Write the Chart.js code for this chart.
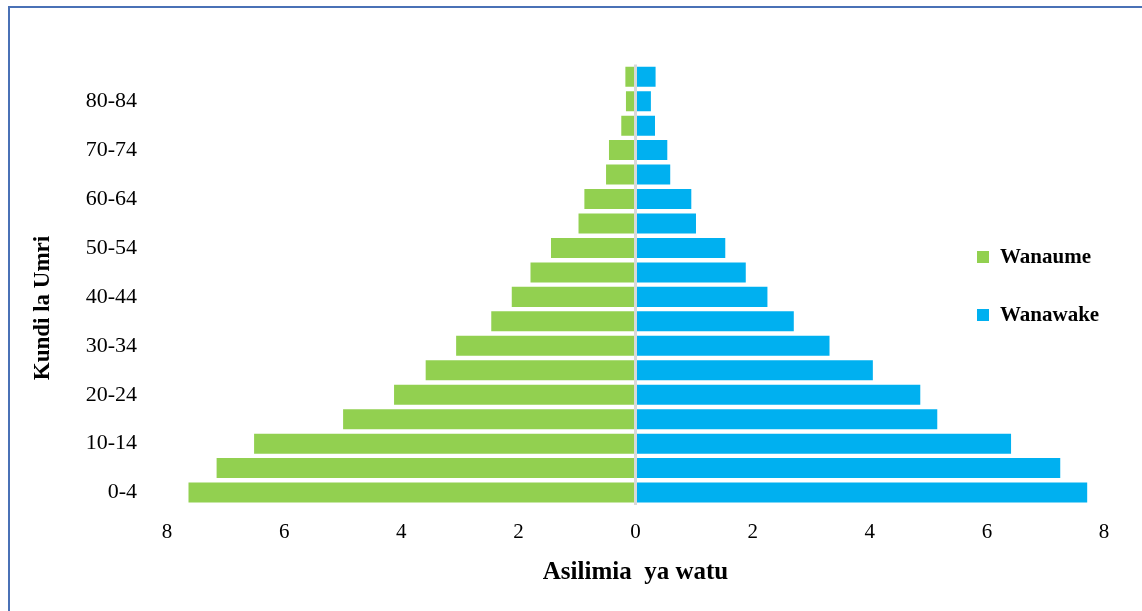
<!DOCTYPE html>
<html>
<head>
<meta charset="utf-8">
<script src="https://cdn.jsdelivr.net/npm/chart.js@4.4.1/dist/chart.umd.min.js"></script>
<style>
    body { margin: 0; background: #fff; overflow: hidden; }
    #frame {
        position: absolute; left: 8px; top: 6px;
        width: 1200px; height: 700px;
        border-left: 2px solid #4a71b6; border-top: 2px solid #4a71b6;
    }
    #pyramid { position: absolute; left: 0; top: 0; }
</style>
</head>
<body>
<div id="frame"></div>
<canvas id="pyramid" width="1142" height="611"></canvas>
<script>
// age groups, youngest first
const ageGroups = ["0-4","5-9","10-14","15-19","20-24","25-29","30-34","35-39","40-44",
                   "45-49","50-54","55-59","60-64","65-69","70-74","75-79","80-84","85+"];
// percent of population
const wanaume = [7.65, 7.17, 6.53, 5.01, 4.14, 3.60, 3.08, 2.48, 2.13,
                 1.81, 1.46, 0.99, 0.89, 0.52, 0.47, 0.26, 0.18, 0.19];
const wanawake = [7.73, 7.27, 6.43, 5.17, 4.88, 4.07, 3.33, 2.72, 2.27,
                  1.90, 1.55, 1.05, 0.97, 0.61, 0.56, 0.35, 0.28, 0.36];
const xTicks = [-8, -6, -4, -2, 0, 2, 4, 6, 8];

const serif = "'Liberation Serif', 'Times New Roman', serif";

// legend + y title drawn inside the plot like the original
const extras = {
    id: 'extras',
    afterDraw(chart) {
        const ctx = chart.ctx;
        ctx.save();
        ctx.fillStyle = '#000';
        ctx.font = 'bold 23px ' + serif;
        ctx.textAlign = 'center';
        ctx.textBaseline = 'middle';
        ctx.translate(43, 308);
        ctx.rotate(-Math.PI / 2);
        ctx.fillText('Kundi la Umri', 0, 0);
        ctx.restore();

        ctx.save();
        ctx.font = 'bold 21px ' + serif;
        ctx.textBaseline = 'middle';
        const rows = [257, 315];
        chart.data.datasets.forEach(function(ds, i) {
            ctx.fillStyle = ds.backgroundColor;
            ctx.fillRect(977, rows[i] - 6, 12, 12);
            ctx.fillStyle = '#000';
            ctx.fillText(ds.label, 1000, rows[i] + 1);
        });
        ctx.restore();
    }
};

const ctx = document.getElementById("pyramid");

const myChart = new Chart(ctx, {
    type: 'bar',
    data: {
        labels: ageGroups,
        datasets: [{
            label: 'Wanaume',
            data: wanaume.map(v => -v),
            backgroundColor: '#92D050',
            borderColor: 'rgba(255,255,255,0.45)',
            borderWidth: 1,
            barPercentage: 0.9,
            categoryPercentage: 1
        }, {
            label: 'Wanawake',
            data: wanawake,
            backgroundColor: '#00B0F0',
            borderColor: 'rgba(255,255,255,0.45)',
            borderWidth: 1,
            barPercentage: 0.9,
            categoryPercentage: 1
        }]
    },
    options: {
        indexAxis: 'y',
        responsive: false,
        animation: false,
        layout: {
            padding: { left: 20, top: 64.5, right: 38, bottom: 26 }
        },
        plugins: {
            legend: { display: false },
            tooltip: { enabled: false }
        },
        scales: {
            x: {
                stacked: true,
                min: -8,
                max: 8,
                z: 1,
                afterBuildTicks: function(scale) {
                    scale.ticks = xTicks.map(v => ({ value: v }));
                },
                ticks: {
                    color: '#000',
                    padding: 15,
                    font: { family: serif, size: 21 },
                    callback: function(value) { return Math.abs(value); }
                },
                grid: {
                    drawTicks: false,
                    color: function(c) { return c.tick && c.tick.value === 0 ? '#d9d9d9' : 'rgba(0,0,0,0)'; },
                    lineWidth: 3
                },
                border: { display: false },
                title: {
                    display: true,
                    text: 'Asilimia  ya watu',
                    color: '#000',
                    font: { family: serif, size: 25, weight: 'bold', lineHeight: 1 },
                    padding: { top: 0, bottom: 0 }
                }
            },
            y: {
                stacked: true,
                reverse: true,
                afterFit: function(scale) { scale.width = 147; },
                ticks: {
                    color: '#000',
                    padding: 30,
                    autoSkip: false,
                    font: { family: serif, size: 22 },
                    callback: function(value, index) {
                        return index % 2 === 0 ? this.getLabelForValue(value) : '';
                    }
                },
                grid: { display: false, drawTicks: false },
                border: { display: false }
            }
        }
    },
    plugins: [extras]
});
</script>
</body>
</html>
